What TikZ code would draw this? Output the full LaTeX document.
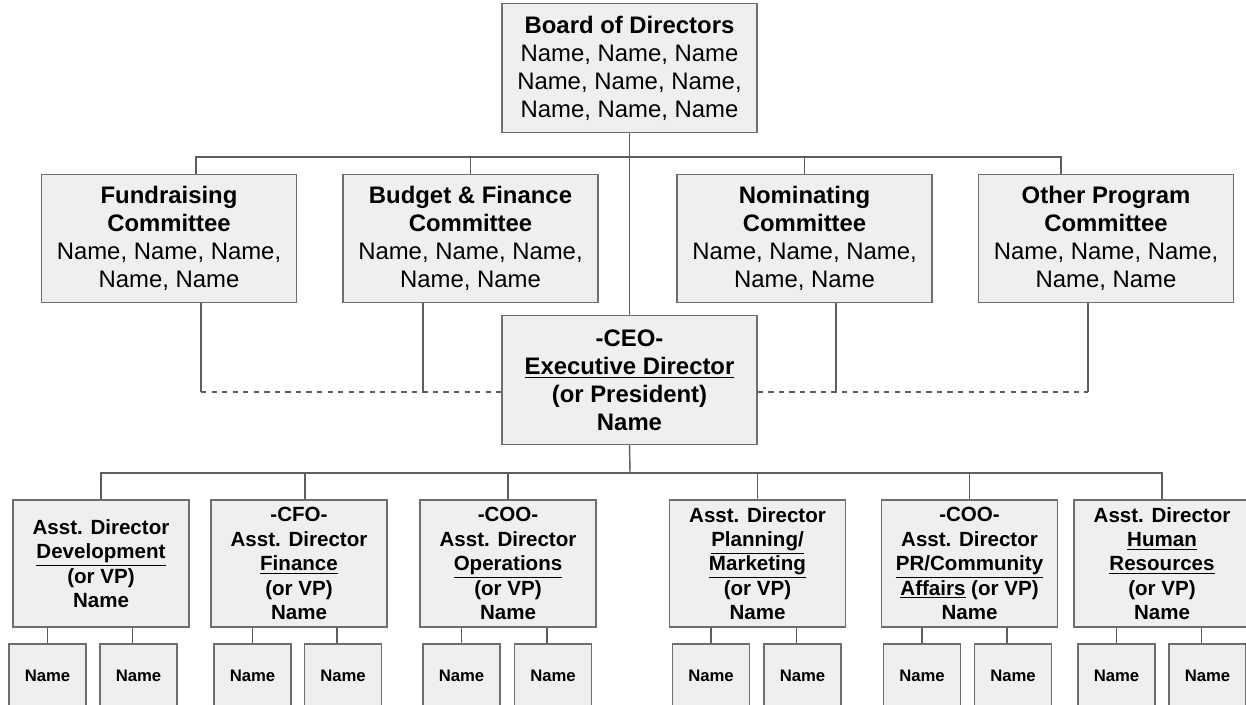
\documentclass[tikz,border=0pt]{standalone}
\usepackage{fontspec}
\setmainfont{Liberation Sans}
\usepackage{tikz}
\usetikzlibrary{calc}

\definecolor{boxfill}{HTML}{EFEFEF}
\definecolor{boxline}{HTML}{6E6E6E}
\definecolor{linegray}{HTML}{5E5E5E}

\tikzset{
  box/.style={draw=boxline, fill=boxfill, line width=0.8pt, align=center, inner sep=0pt},
  bigbox/.style={box, minimum width=5.1cm, minimum height=2.57cm,
                 font=\fontsize{13.6}{15.9}\selectfont},
  vpbox/.style={box, minimum width=3.52cm, minimum height=2.54cm,
                font=\fontsize{11.7}{13.9}\selectfont\bfseries},
  namebox/.style={box, minimum width=1.54cm, minimum height=1.28cm,
                  font=\fontsize{9.5}{11}\selectfont\bfseries},
  conn/.style={draw=linegray, line width=0.8pt},
  dashline/.style={conn, dashed}
}

\begin{document}
\begin{tikzpicture}[x=0.02cm, y=-0.02cm]
  \useasboundingbox (0,0) rectangle (1246,704);
  \clip (0,0) rectangle (1246,704);

  % board and committees
  \node[bigbox] (board) at (629.5,68) {\textbf{Board of Directors}\\Name, Name, Name\\Name, Name, Name,\\Name, Name, Name};
  \node[bigbox] (fund) at (169,238.5) {\textbf{Fundraising}\\\textbf{Committee}\\Name, Name, Name,\\Name, Name};
  \node[bigbox] (budget) at (470.5,238.5) {\textbf{Budget \& Finance}\\\textbf{Committee}\\Name, Name, Name,\\Name, Name};
  \node[bigbox] (nom) at (804.5,238.5) {\textbf{Nominating}\\\textbf{Committee}\\Name, Name, Name,\\Name, Name};
  \node[bigbox] (other) at (1106,238.5) {\textbf{Other Program}\\\textbf{Committee}\\Name, Name, Name,\\Name, Name};
  \node[bigbox, font=\fontsize{13.6}{15.9}\selectfont\bfseries] (ceo) at (629.5,380)
    {-CEO-\\\underline{Executive Director}\\(or President)\\Name};

  % assistant directors
  \node[vpbox] (dev) at (101,563.5) {Asst. Director\\\underline{Development}\\(or VP)\\Name};
  \node[vpbox] (cfo) at (299,563.5) {-CFO-\\Asst. Director\\\underline{Finance}\\(or VP)\\Name};
  \node[vpbox] (coo) at (508,563.5) {-COO-\\Asst. Director\\\underline{Operations}\\(or VP)\\Name};
  \node[vpbox] (plan) at (757.5,563.5) {Asst. Director\\\underline{Planning/}\\\underline{Marketing}\\(or VP)\\Name};
  \node[vpbox] (pr) at (969.5,563.5) {-COO-\\Asst. Director\\\underline{PR/Community}\\\underline{Affairs} (or VP)\\Name};
  \node[vpbox] (hr) at (1162,563.5) {Asst. Director\\\underline{Human}\\\underline{Resources}\\(or VP)\\Name};

  \coordinate (topbus) at (630,157);
  \coordinate (dashlvl) at (630,392);
  \coordinate (vpbus) at (630,473);

  % board to committees
  \draw[conn] (board.south) -- (ceo.north);
  \draw[conn] ([xshift=0.54cm]fund.north) |- (topbus) -| ([xshift=-0.9cm]other.north);
  \draw[conn] (budget.north) -- (budget.north |- topbus);
  \draw[conn] (nom.north) -- (nom.north |- topbus);

  % committees to ceo
  \draw[conn] ([xshift=0.64cm]fund.south) -- ([xshift=0.64cm]fund.south |- dashlvl);
  \draw[conn] ([xshift=-0.95cm]budget.south) -- ([xshift=-0.95cm]budget.south |- dashlvl);
  \draw[conn] ([xshift=0.63cm]nom.south) -- ([xshift=0.63cm]nom.south |- dashlvl);
  \draw[conn] ([xshift=-0.36cm]other.south) -- ([xshift=-0.36cm]other.south |- dashlvl);
  \draw[dashline] ([xshift=0.64cm]fund.south |- dashlvl) -- (ceo.west |- dashlvl);
  \draw[dashline] (ceo.east |- dashlvl) -- ([xshift=-0.36cm]other.south |- dashlvl);

  % ceo to assistant directors
  \draw[conn] (ceo.south) -- (vpbus);
  \draw[conn] (dev.north) |- (vpbus) -| (hr.north);
  \draw[conn] ([xshift=0.12cm]cfo.north) -- ([xshift=0.12cm]cfo.north |- vpbus);
  \foreach \vp in {coo, plan, pr}
    \draw[conn] (\vp.north) -- (\vp.north |- vpbus);

  % staff
  \foreach \vp/\a/\b in {dev/47.5/138.5, cfo/252.5/343, coo/461.5/553,
                         plan/711/802.5, pr/922/1013, hr/1116.5/1207.5} {
    \node[namebox] (\vp-l) at (\a,676) {Name};
    \node[namebox] (\vp-r) at (\b,676) {Name};
    \draw[conn] (\vp-l.north) -- (\vp-l.north |- \vp.south);
    \draw[conn] ([xshift=-0.12cm]\vp-r.north) -- ([xshift=-0.12cm]\vp-r.north |- \vp.south);
  }
\end{tikzpicture}
\end{document}
